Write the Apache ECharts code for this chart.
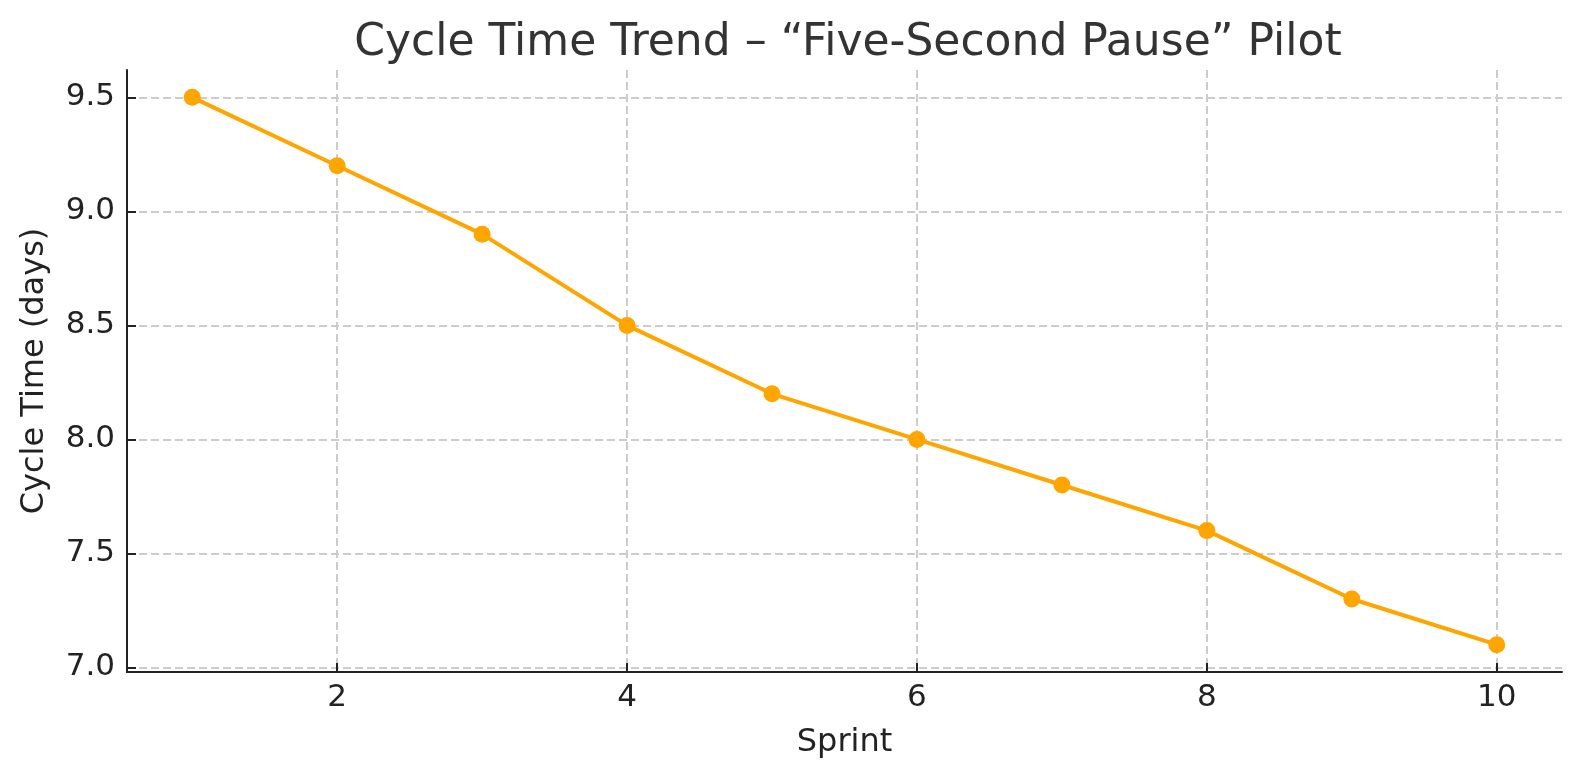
<!DOCTYPE html>
<html>
<head>
<meta charset="utf-8">
<script src="https://cdn.jsdelivr.net/npm/echarts@6/dist/echarts.min.js"></script>
<style>
  html, body { margin: 0; padding: 0; background: #fff; }
  #chart { width: 1580px; height: 780px; }
</style>
</head>
<body>
<div id="chart"></div>
<script>
const sprints = [1, 2, 3, 4, 5, 6, 7, 8, 9, 10]
const cycleTime = [9.5, 9.2, 8.9, 8.5, 8.2, 8.0, 7.8, 7.6, 7.3, 7.1]
const xTicks = [2, 4, 6, 8, 10]
const yTicks = [7.0, 7.5, 8.0, 8.5, 9.0, 9.5]

const font = 'DejaVu Sans'

const chart = echarts.init(document.getElementById('chart'))

const option = {
  animation: false,
  backgroundColor: '#fff',
  textStyle: { fontFamily: font },
  title: {
    text: 'Cycle Time Trend – “Five-Second Pause” Pilot',
    left: 843,
    textAlign: 'center',
    top: 17,
    textStyle: { fontFamily: font, fontSize: 44, fontWeight: 'normal', color: '#333' }
  },
  grid: { left: 127, right: 18, top: 70, bottom: 108, containLabel: false },
  xAxis: {
    type: 'value',
    min: 0.55,
    max: 10.45,
    name: 'Sprint',
    nameLocation: 'middle',
    nameGap: 55,
    nameTextStyle: { fontFamily: font, fontSize: 32, color: '#222' },
    axisLine: { show: true, onZero: false, lineStyle: { color: '#222', width: 2 } },
    axisTick: { show: true, inside: true, length: 9, customValues: xTicks, lineStyle: { color: '#222', width: 2 } },
    axisLabel: { customValues: xTicks, margin: 10, fontSize: 31, color: '#222', fontFamily: font },
    splitLine: { show: true, lineStyle: { color: '#cccccc', width: 2, type: [8, 4] } }
  },
  yAxis: {
    type: 'value',
    min: 6.98,
    max: 9.62,
    name: 'Cycle Time (days)',
    nameLocation: 'middle',
    nameGap: 76,
    nameTextStyle: { fontFamily: font, fontSize: 32, color: '#222' },
    axisLine: { show: true, onZero: false, lineStyle: { color: '#222', width: 2 } },
    axisTick: { show: true, inside: true, length: 9, customValues: yTicks, lineStyle: { color: '#222', width: 2 } },
    axisLabel: {
      customValues: yTicks, margin: 12, fontSize: 31, color: '#222', fontFamily: font,
      formatter: v => v.toFixed(1)
    },
    splitLine: { show: true, lineStyle: { color: '#cccccc', width: 2, type: [8, 4] } }
  },
  series: [{
    type: 'line',
    data: sprints.map((s, i) => [s, cycleTime[i]]),
    symbol: 'circle',
    symbolSize: 17,
    itemStyle: { color: '#ffa500' },
    lineStyle: { color: '#ffa500', width: 4 }
  }]
}

chart.setOption(option)
</script>
</body>
</html>
